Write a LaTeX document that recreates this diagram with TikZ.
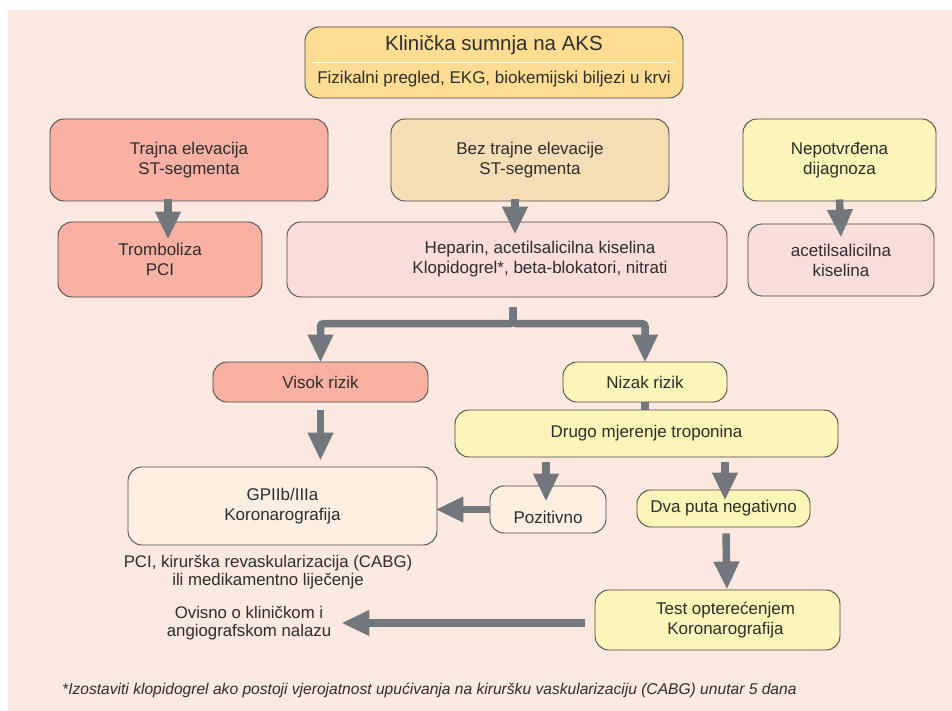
\documentclass[tikz,border=0pt]{standalone}
\usepackage{fontspec}
\setmainfont{Liberation Sans}
\usetikzlibrary{arrows.meta}
\definecolor{canvas}{HTML}{FBE8DF}
\definecolor{aksfill}{HTML}{FEDC92}
\definecolor{salmon}{HTML}{F8B0A2}
\definecolor{wheat}{HTML}{F5DDB5}
\definecolor{lemon}{HTML}{FBF5B7}
\definecolor{blush}{HTML}{F9DDD8}
\definecolor{cream}{HTML}{FDEEE2}
\definecolor{boxline}{HTML}{4A4A4A}
\definecolor{arrowgray}{HTML}{72767D}
\definecolor{ink}{HTML}{2E2E2E}

\begin{document}
\begin{tikzpicture}[x=1pt,y=-1pt,
box/.style={draw=boxline,line width=0.9pt,rounded corners=14pt,align=center,text=ink,font=\fontsize{17}{20}\selectfont,inner sep=0pt},
boxtext/.style={align=center,text=ink,font=\fontsize{17}{20}\selectfont,inner sep=0pt},
flow/.style={draw=arrowgray,line width=7.5pt,-{Triangle[width=24pt,length=28pt]}},
stub/.style={draw=arrowgray,line width=7.5pt},
note/.style={align=center,text=ink,font=\fontsize{16.8}{18}\selectfont,inner sep=0pt}]
\useasboundingbox (0,0) rectangle (952,711);
\fill[canvas] (8,10) rectangle (952,711);
% top box
\node[box,fill=aksfill,minimum width=378pt,minimum height=71pt] (aks) at (494,62.5) {};
\node[boxtext,font=\fontsize{20.5}{24}\selectfont] (aksT) at ([yshift=17pt]aks.center) {Klinička sumnja na AKS};
\node[boxtext,font=\fontsize{17}{20}\selectfont] (aksS) at ([yshift=-17pt]aks.center) {Fizikalni pregled, EKG, biokemijski biljezi u krvi};
\draw[white,line width=1.2pt] ([xshift=8pt]aks.west) -- ([xshift=-8pt]aks.east);
% first row
\node[box,fill=salmon,minimum width=278pt,minimum height=82pt] (trajna) at (189,160) {Trajna elevacija\\ST-segmenta};
\node[box,fill=wheat,minimum width=278pt,minimum height=82pt] (bez) at (530,160) {Bez trajne elevacije\\ST-segmenta};
\node[box,fill=lemon,minimum width=193pt,minimum height=82pt] (nepot) at (839.5,160) {Nepotvrđena\\dijagnoza};
% second row
\node[box,fill=salmon,minimum width=204pt,minimum height=75pt] (trom) at (160,259.5) {Tromboliza\\PCI};
\node[box,fill=blush,minimum width=440pt,minimum height=75pt] (hep) at (507,259.5) {};
\node[boxtext] (hepT) at ([xshift=33pt]hep.center) {Heparin, acetilsalicilna kiselina\\Klopidogrel*, beta-blokatori, nitrati};
\node[box,fill=blush,minimum width=186pt,minimum height=72pt] (acet) at (841,260) {acetilsalicilna\\kiselina};
% risk
\node[box,fill=salmon,minimum width=215pt,minimum height=40pt] (visok) at (320.5,382) {Visok rizik};
\node[box,fill=lemon,minimum width=164pt,minimum height=40pt] (nizak) at (645,382) {Nizak rizik};
\node[box,fill=lemon,minimum width=383pt,minimum height=47pt] (drugo) at (646.5,433.5) {Drugo mjerenje troponina};
\node[box,fill=cream,minimum width=309pt,minimum height=78pt] (gp) at (282.5,506) {GPIIb/IIIa\\Koronarografija};
\node[box,fill=cream,minimum width=116pt,minimum height=47pt] (poz) at (548,509.5) {};
\node[boxtext] (pozT) at ([yshift=-8pt]poz.center) {Pozitivno};
\node[box,fill=lemon,minimum width=173pt,minimum height=37pt] (dva) at (723.5,508.5) {Dva puta negativno};
\node[box,fill=lemon,minimum width=245pt,minimum height=60pt] (test) at (717.5,620) {};
\node[boxtext] (testT) at ([xshift=8pt]test.center) {Test opterećenjem\\Koronarografija};
% free texts
\node[note] (pci) at (268,572) {PCI, kirurška revaskularizacija (CABG)\\ili medikamentno liječenje};
\node[note] (ovisno) at (249,623) {Ovisno o kliničkom i\\angiografskom nalazu};
\node[anchor=west,inner sep=0pt,text=ink,font=\fontsize{15.6}{18}\selectfont\itshape] (fn) at (62,690) {*Izostaviti klopidogrel ako postoji vjerojatnost upućivanja na kiruršku vaskularizaciju (CABG) unutar 5 dana};
% arrows
\draw[flow] ([xshift=-21pt,yshift=2pt]trajna.south) -- ([xshift=8pt,yshift=-18pt]trom.north);
\draw[flow] ([xshift=-15pt,yshift=2pt]bez.south) -- ([xshift=8pt,yshift=-13pt]hep.north);
\draw[flow] ([yshift=2pt]nepot.south) -- ([yshift=-14pt]acet.north);
\coordinate (split) at ([xshift=6pt,yshift=-10pt]hep.south);
\draw[flow,rounded corners=3pt] (split) |- ([yshift=38pt]visok.north) -- ([yshift=-1pt]visok.north);
\draw[flow,rounded corners=3pt] (split) |- ([yshift=38pt]nizak.north) -- ([yshift=-1pt]nizak.north);
\draw[stub] (nizak.south) -- (nizak.south |- drugo.north);
\draw[flow] ([yshift=-8pt]visok.south) -- ([yshift=6pt]visok.south |- gp.north);
\draw[flow] ([xshift=-2pt,yshift=-5pt]drugo.south -| poz.center) -- ([xshift=-2pt,yshift=-16pt]poz.north);
\draw[flow] ([xshift=1.5pt,yshift=-5pt]drugo.south -| dva.center) -- ([xshift=1.5pt,yshift=-11pt]dva.north);
\draw[flow] (poz.west) -- ([xshift=-2pt]gp.east |- poz.west);
\draw[flow] ([xshift=2.5pt,yshift=-6pt]dva.south) -- ([xshift=9.5pt]test.north);
\draw[flow] ([xshift=-10pt,yshift=-3pt]test.west) -- ([xshift=10pt,yshift=-3pt]ovisno.east |- test.west);
\end{tikzpicture}
\end{document}
